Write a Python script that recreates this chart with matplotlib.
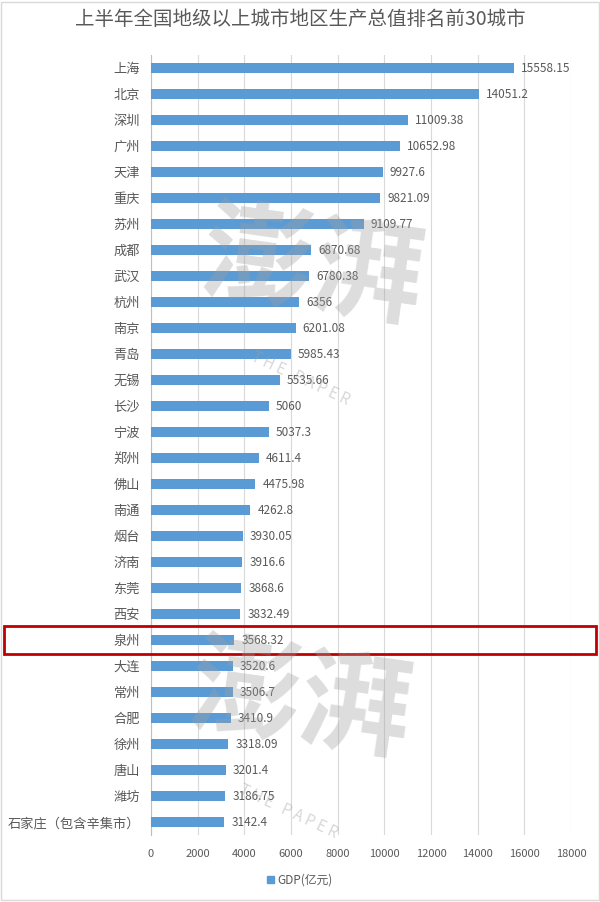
import matplotlib
matplotlib.use("Agg")
import matplotlib.pyplot as plt
from matplotlib.patches import Rectangle, Patch

plt.rcParams['font.family'] = ['Noto Sans CJK SC', 'DejaVu Sans']

cities = ["上海", "北京", "深圳", "广州", "天津", "重庆", "苏州", "成都", "武汉", "杭州",
          "南京", "青岛", "无锡", "长沙", "宁波", "郑州", "佛山", "南通", "烟台", "济南",
          "东莞", "西安", "泉州", "大连", "常州", "合肥", "徐州", "唐山", "潍坊",
          "石家庄（包含辛集市）"]
gdp = [15558.15, 14051.2, 11009.38, 10652.98, 9927.6, 9821.09, 9109.77, 6870.68, 6780.38, 6356,
       6201.08, 5985.43, 5535.66, 5060, 5037.3, 4611.4, 4475.98, 4262.8, 3930.05, 3916.6,
       3868.6, 3832.49, 3568.32, 3520.6, 3506.7, 3410.9, 3318.09, 3201.4, 3186.75, 3142.4]
gdp_labels = ["15558.15", "14051.2", "11009.38", "10652.98", "9927.6", "9821.09", "9109.77",
              "6870.68", "6780.38", "6356", "6201.08", "5985.43", "5535.66", "5060", "5037.3",
              "4611.4", "4475.98", "4262.8", "3930.05", "3916.6", "3868.6", "3832.49",
              "3568.32", "3520.6", "3506.7", "3410.9", "3318.09", "3201.4", "3186.75", "3142.4"]
x_ticks = [0, 2000, 4000, 6000, 8000, 10000, 12000, 14000, 16000, 18000]
highlight = "泉州"

bar_color = "#5B9BD5"
text_color = "#595959"
grid_color = "#D9D9D9"

fig = plt.figure(figsize=(6, 9.02), dpi=100)
ax = fig.add_axes([151 / 600, 1 - 835 / 902, 420 / 600, 780 / 902])

pos = list(range(len(cities)))
ax.barh(pos, gdp, height=0.42, color=bar_color, zorder=3)
for p, v, lab in zip(pos, gdp, gdp_labels):
    ax.annotate(lab, (v, p), xytext=(5, 0), textcoords="offset points",
                va="center", ha="left", fontsize=8.5, color=text_color, zorder=4)

ax.set_ylim(len(cities) - 0.5, -0.5)
ax.set_xlim(0, 18000)
ax.set_yticks(pos)
ax.set_yticklabels(cities, fontsize=9.5, color=text_color)
ax.set_xticks(x_ticks)
ax.set_xticklabels([str(t) for t in x_ticks], fontsize=8, color=text_color)
ax.tick_params(axis="both", length=0)
ax.tick_params(axis="y", pad=8)
ax.tick_params(axis="x", pad=10)
ax.grid(axis="x", color=grid_color, linewidth=0.8, zorder=0)
for side in ["top", "right", "bottom"]:
    ax.spines[side].set_visible(False)
ax.spines["left"].set_color("#BFBFBF")
ax.spines["left"].set_linewidth(0.8)

# watermark (approximate)
for wx, wy in [(0.52, 0.70), (0.50, 0.22)]:
    fig.text(wx, wy, "澎湃", fontsize=80, color="#9E9E9E", alpha=0.35,
             ha="center", va="center", rotation=-8, fontweight="bold", zorder=1)
    fig.text(wx - 0.02, wy - 0.12, "T H E   P A P E R", fontsize=11, color="#9E9E9E",
             alpha=0.4, ha="center", va="center", rotation=-25, zorder=1)

fig.text(0.5, 1 - 19 / 902, "上半年全国地级以上城市地区生产总值排名前30城市",
         ha="center", va="center", fontsize=14, color=text_color)

fig.legend(handles=[Patch(color=bar_color, label="GDP(亿元)")], loc="center",
           bbox_to_anchor=(0.5, 1 - 880 / 902), frameon=False, fontsize=8.5,
           handlelength=0.6, handleheight=0.6, handletextpad=0.3, labelcolor=text_color)

# red highlight box around the 泉州 row
hi = cities.index(highlight)
y0 = ax.transData.transform((0, hi))[1] / fig.dpi / fig.get_figheight()
fig.patches.append(Rectangle((4 / 600, y0 - 14 / 902), 592 / 600, 28 / 902,
                             transform=fig.transFigure, fill=False,
                             edgecolor="#C00000", linewidth=2))

# outer frame
fig.patches.append(Rectangle((0.002, 0.002), 0.996, 0.996, transform=fig.transFigure,
                             fill=False, edgecolor="#D9D9D9", linewidth=1))

fig.savefig("out.png", dpi=100)
